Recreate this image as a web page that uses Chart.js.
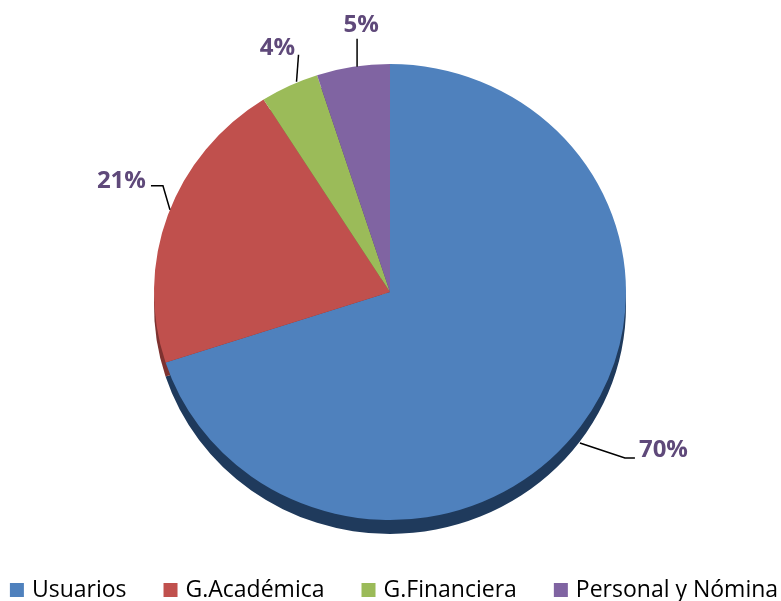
<!DOCTYPE html>
<html><head><meta charset="utf-8">
<script src="https://cdn.jsdelivr.net/npm/chart.js@4"></script>
<style>html,body{margin:0;padding:0;background:#fff;} #wrap{width:781px;height:601px;position:relative;}</style>
</head><body><div id="wrap"><canvas id="c"></canvas></div>
<script>
// ---- data ----
const categories = ['Usuarios', 'G.Académica', 'G.Financiera', 'Personal y Nómina'];
const values = [70, 21, 4, 5];
const percentLabels = ['70%', '21%', '4%', '5%'];

// ---- styles ----
const colors = ['#4F81BD', '#C0504D', '#9BBB59', '#8064A2'];
const sideColors = ['#1F3A5C', '#7E3230', '#62793A', '#4F3D66'];
const labelColor = '#5F497A';
const ellipseY = 0.966;
const depth = 14;
const leaderOffsets = [
  [[-1, 17], [44, 32], [54, 32]],
  [[2, -5], [-5, -29], [-17, -29]],
  [[7, -4], [9, -31]],
  [[4, 0], [4, -28]]
];
const textOffsets = [[58, 24, 'left'], [-22, -34, 'right'], [-12, -38, 'center'], [8, -42, 'center']];

function ellipseTransform(ctx, cy) {
  ctx.translate(0, cy);
  ctx.scale(1, ellipseY);
  ctx.translate(0, -cy);
}

const piePlugin = {
  id: 'pie3d',
  beforeDatasetsDraw(chart) {
    const ctx = chart.ctx;
    const arcs = chart.getDatasetMeta(0).data;
    if (!arcs.length) return;
    const cy = arcs[0].y;
    ctx.save();
    ctx.translate(0, depth);
    ellipseTransform(ctx, cy);
    arcs.forEach((a, i) => {
      ctx.beginPath();
      ctx.moveTo(a.x, a.y);
      ctx.arc(a.x, a.y, a.outerRadius, a.startAngle, a.endAngle);
      ctx.closePath();
      ctx.fillStyle = sideColors[i];
      ctx.fill();
    });
    ctx.restore();
    ctx.save();
    ellipseTransform(ctx, cy);
  },
  afterDatasetsDraw(chart) {
    const ctx = chart.ctx;
    ctx.restore();
    const arcs = chart.getDatasetMeta(0).data;
    // data labels with leader lines
    ctx.save();
    ctx.font = 'bold 24px "Open Sans"';
    ctx.fillStyle = labelColor;
    ctx.strokeStyle = '#000';
    ctx.lineWidth = 1.5;
    ctx.textBaseline = 'middle';
    arcs.forEach((a, i) => {
      const mid = (a.startAngle + a.endAngle) / 2;
      const ax = a.x + a.outerRadius * Math.cos(mid);
      const ay = a.y + a.outerRadius * Math.sin(mid) * ellipseY;
      const pts = leaderOffsets[i];
      ctx.beginPath();
      ctx.moveTo(ax + pts[0][0], ay + pts[0][1]);
      for (let k = 1; k < pts.length; k++) ctx.lineTo(ax + pts[k][0], ay + pts[k][1]);
      ctx.stroke();
      const t = textOffsets[i];
      ctx.textAlign = t[2];
      ctx.fillText(percentLabels[i], ax + t[0], ay + t[1]);
    });
    ctx.restore();
  },
  afterDraw(chart) {
    const ctx = chart.ctx;
    ctx.save();
    ctx.font = '23px "Open Sans"';
    ctx.textBaseline = 'middle';
    ctx.textAlign = 'left';
    const box = 14, boxGap = 8, gap = 37;
    const widths = categories.map(c => box + boxGap + ctx.measureText(c).width);
    const total = widths.reduce((s, w) => s + w, 0) + gap * (categories.length - 1);
    let x = 394 - total / 2;
    const yMid = 589;
    categories.forEach((c, i) => {
      ctx.fillStyle = colors[i];
      ctx.fillRect(x, yMid - 6, box, box);
      ctx.fillStyle = '#000';
      ctx.fillText(c, x + box + boxGap, yMid + 1);
      x += widths[i] + gap;
    });
    ctx.restore();
  }
};

new Chart(document.getElementById('c'), {
  type: 'pie',
  data: {
    labels: categories,
    datasets: [{
      data: values,
      backgroundColor: colors,
      borderWidth: 0
    }]
  },
  options: {
    responsive: true,
    maintainAspectRatio: false,
    animation: false,
    events: [],
    layout: { padding: { top: 56, bottom: 73, left: 0, right: 1 } },
    plugins: {
      legend: { display: false },
      tooltip: { enabled: false }
    }
  },
  plugins: [piePlugin]
});
</script>
</body></html>
